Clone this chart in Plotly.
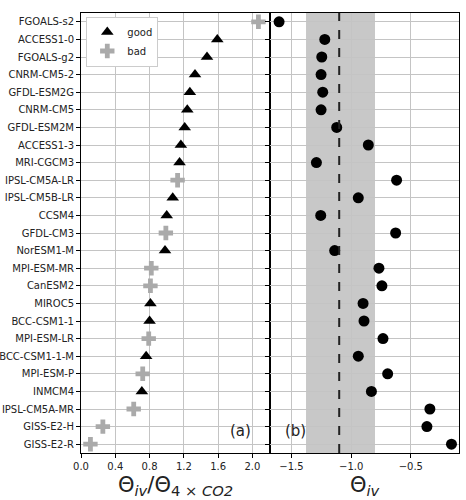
import plotly.graph_objects as go

models = ["FGOALS-s2", "ACCESS1-0", "FGOALS-g2", "CNRM-CM5-2", "GFDL-ESM2G", "CNRM-CM5",
          "GFDL-ESM2M", "ACCESS1-3", "MRI-CGCM3", "IPSL-CM5A-LR", "IPSL-CM5B-LR", "CCSM4",
          "GFDL-CM3", "NorESM1-M", "MPI-ESM-MR", "CanESM2", "MIROC5", "BCC-CSM1-1",
          "MPI-ESM-LR", "BCC-CSM1-1-M", "MPI-ESM-P", "INMCM4", "IPSL-CM5A-MR", "GISS-E2-H",
          "GISS-E2-R"]
ratio = [2.07, 1.59, 1.47, 1.33, 1.27, 1.24, 1.21, 1.165, 1.15, 1.127, 1.07, 1.0,
         0.99, 0.98, 0.82, 0.81, 0.81, 0.80, 0.79, 0.76, 0.72, 0.71, 0.615, 0.255, 0.11]
quality = ["bad", "good", "good", "good", "good", "good", "good", "good", "good", "bad",
           "good", "good", "bad", "good", "bad", "bad", "good", "good", "bad", "good",
           "bad", "good", "bad", "bad", "bad"]
theta_iv = [-1.604, -1.221, -1.246, -1.252, -1.238, -1.252, -1.121, -0.856, -1.291, -0.619,
            -0.94, -1.255, -0.627, -1.138, -0.767, -0.742, -0.90, -0.892, -0.733, -0.94,
            -0.694, -0.83, -0.34, -0.365, -0.159]
obs_mean = -1.1
obs_band = [-1.378, -0.80]
xticks_a = [0.0, 0.4, 0.8, 1.2, 1.6, 2.0]
xticks_b = [-1.5, -1.0, -0.5]

FONT = "DejaVu Sans"
GRID = "#c4c4c4"

good_m = [m for m, q in zip(models, quality) if q == "good"]
good_v = [v for v, q in zip(ratio, quality) if q == "good"]
bad_m = [m for m, q in zip(models, quality) if q == "bad"]
bad_v = [v for v, q in zip(ratio, quality) if q == "bad"]

fig = go.Figure()
fig.add_trace(go.Scatter(x=good_v, y=good_m, mode="markers", name="good",
                         marker=dict(symbol="triangle-up", size=11, color="black"),
                         xaxis="x", yaxis="y"))
fig.add_trace(go.Scatter(x=bad_v, y=bad_m, mode="markers", name="bad",
                         marker=dict(symbol="cross", size=12, color="#aaaaaa"),
                         xaxis="x", yaxis="y"))
fig.add_trace(go.Scatter(x=theta_iv, y=models, mode="markers", showlegend=False,
                         marker=dict(symbol="circle", size=11, color="black"),
                         xaxis="x2", yaxis="y2"))

fig.add_shape(type="rect", xref="x2", yref="y2 domain", x0=obs_band[0], x1=obs_band[1],
              y0=0, y1=1, fillcolor="#c8c8c8", line=dict(width=0), layer="below")
fig.add_shape(type="line", xref="x2", yref="y2 domain", x0=obs_mean, x1=obs_mean,
              y0=0, y1=1, line=dict(color="#222222", width=2, dash="dash"), layer="above")

axis_common = dict(showline=True, linecolor="black", linewidth=1, mirror=True,
                   showgrid=True, gridcolor=GRID, gridwidth=1, zeroline=False,
                   ticks="outside", ticklen=4, tickcolor="black", automargin=False,
                   tickfont=dict(family=FONT, size=10, color="#222"))

fig.update_layout(
    width=466, height=500,
    margin=dict(l=81, r=7, t=13, b=47),
    plot_bgcolor="white", paper_bgcolor="white",
    font=dict(family=FONT, color="#222"),
    xaxis=dict(domain=[0, 0.5], range=[0, 2.205], tickvals=xticks_a,
               ticktext=[f"{v:.1f}" for v in xticks_a], **axis_common),
    xaxis2=dict(domain=[0.5, 1], range=[-1.68, -0.096], tickvals=xticks_b,
                ticktext=["\u22121.5", "\u22121.0", "\u22120.5"], anchor="y2", **axis_common),
    yaxis=dict(type="category", categoryorder="array", categoryarray=models,
               range=[24.5, -0.5], **axis_common),
    yaxis2=dict(type="category", categoryorder="array", categoryarray=models,
                range=[24.5, -0.5], anchor="x2", showticklabels=False, **axis_common),
    showlegend=True,
    legend=dict(x=0.014, y=0.992, xanchor="left", yanchor="top",
                bgcolor="white", bordercolor="#cccccc", borderwidth=1,
                font=dict(family=FONT, size=10, color="#222"),
                itemwidth=30, tracegroupgap=0),
)

fig.add_annotation(text="(a)", xref="x domain", yref="y domain", x=0.91, y=0.025,
                   xanchor="right", yanchor="bottom", showarrow=False,
                   font=dict(family=FONT, size=15, color="#222"))
fig.add_annotation(text="(b)", xref="x2 domain", yref="y2 domain", x=0.07, y=0.025,
                   xanchor="left", yanchor="bottom", showarrow=False,
                   font=dict(family=FONT, size=15, color="#222"))
fig.add_annotation(text="\u0398<sub><i>iv</i></sub>/\u0398<sub>4 \u00d7 <i>CO2</i></sub>",
                   xref="x domain", yref="paper", x=0.5, y=-0.042, yanchor="top",
                   showarrow=False, font=dict(family=FONT, size=21, color="#222"))
fig.add_annotation(text="\u0398<sub><i>iv</i></sub>",
                   xref="x2 domain", yref="paper", x=0.5, y=-0.042, yanchor="top",
                   showarrow=False, font=dict(family=FONT, size=21, color="#222"))

fig.write_html("out.html")
